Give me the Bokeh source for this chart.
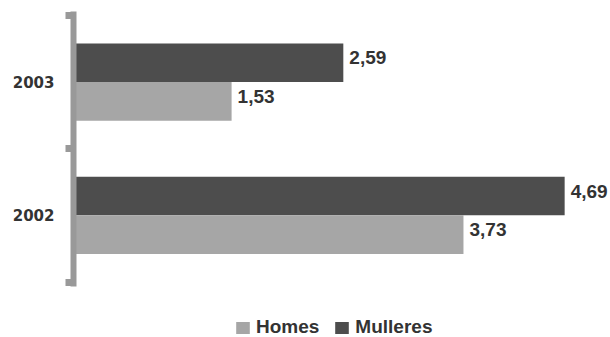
from bokeh.plotting import figure
from bokeh.models import (ColumnDataSource, FixedTicker, Legend, LegendItem, Range1d)
from bokeh.transform import dodge
from bokeh.core.properties import value
from bokeh.embed import file_html
from bokeh.resources import INLINE

years = ["2002", "2003"]
homes = [3.73, 1.53]
mulleres = [4.69, 2.59]

HOMES_COLOR = "#a6a6a6"
MULLERES_COLOR = "#4d4d4d"
TEXT_COLOR = "#333333"
AXIS_COLOR = "#999999"

pos = list(range(len(years)))
src = ColumnDataSource(dict(
    pos=pos,
    homes=homes,
    mulleres=mulleres,
    homes_lbl=[f"{v:.2f}".replace(".", ",") for v in homes],
    mulleres_lbl=[f"{v:.2f}".replace(".", ",") for v in mulleres],
))

p = figure(width=610, height=337, output_backend="svg", toolbar_location=None,
           x_range=Range1d(0.03, 5.125), y_range=Range1d(-0.9165, 1.53),
           min_border_left=73, min_border_right=0, min_border_top=11,
           min_border_bottom=0)
p.outline_line_color = None
p.background_fill_color = "white"
p.border_fill_color = "white"
p.xgrid.visible = False
p.ygrid.visible = False
p.xaxis.visible = False

bh = 0.29
r_m = p.hbar(y=dodge("pos", bh / 2), right="mulleres", left=0,
             height=bh, source=src, fill_color=MULLERES_COLOR, line_color=None)
r_h = p.hbar(y=dodge("pos", -bh / 2), right="homes", left=0,
             height=bh, source=src, fill_color=HOMES_COLOR, line_color=None)

lbl_font = value("Liberation Sans")
p.text(x="mulleres", y=dodge("pos", bh / 2), text="mulleres_lbl",
       source=src, x_offset=6, y_offset=-5, text_baseline="middle",
       text_font=lbl_font, text_font_style="bold", text_font_size="19px",
       text_color=TEXT_COLOR)
p.text(x="homes", y=dodge("pos", -bh / 2), text="homes_lbl",
       source=src, x_offset=6, y_offset=-5, text_baseline="middle",
       text_font=lbl_font, text_font_style="bold", text_font_size="19px",
       text_color=TEXT_COLOR)

ax = p.yaxis[0]
ax.bounds = (-0.534, 1.53)
ax.ticker = FixedTicker(ticks=pos, minor_ticks=[-0.5, 0.5, 1.5])
ax.major_label_overrides = {i: y for i, y in enumerate(years)}
ax.axis_line_color = AXIS_COLOR
ax.axis_line_width = 6
ax.major_tick_line_color = None
ax.major_tick_in = 0
ax.major_tick_out = 0
ax.minor_tick_line_color = AXIS_COLOR
ax.minor_tick_line_width = 7
ax.minor_tick_in = 0
ax.minor_tick_out = 8
ax.major_label_standoff = 11
ax.major_label_text_font = "DejaVu Sans"
ax.major_label_text_font_style = "bold"
ax.major_label_text_font_size = "15px"
ax.major_label_text_color = TEXT_COLOR

legend = Legend(items=[LegendItem(label="Homes", renderers=[r_h]),
                       LegendItem(label="Mulleres", renderers=[r_m])],
                orientation="horizontal", location=(161, -1),
                glyph_width=17, glyph_height=15, label_standoff=5, spacing=14,
                padding=0, margin=0, border_line_color=None,
                background_fill_alpha=0,
                label_text_font="Liberation Sans", label_text_font_style="bold",
                label_text_font_size="19px", label_text_color=TEXT_COLOR)
p.add_layout(legend)

open("out.html", "w").write(file_html(p, INLINE))
